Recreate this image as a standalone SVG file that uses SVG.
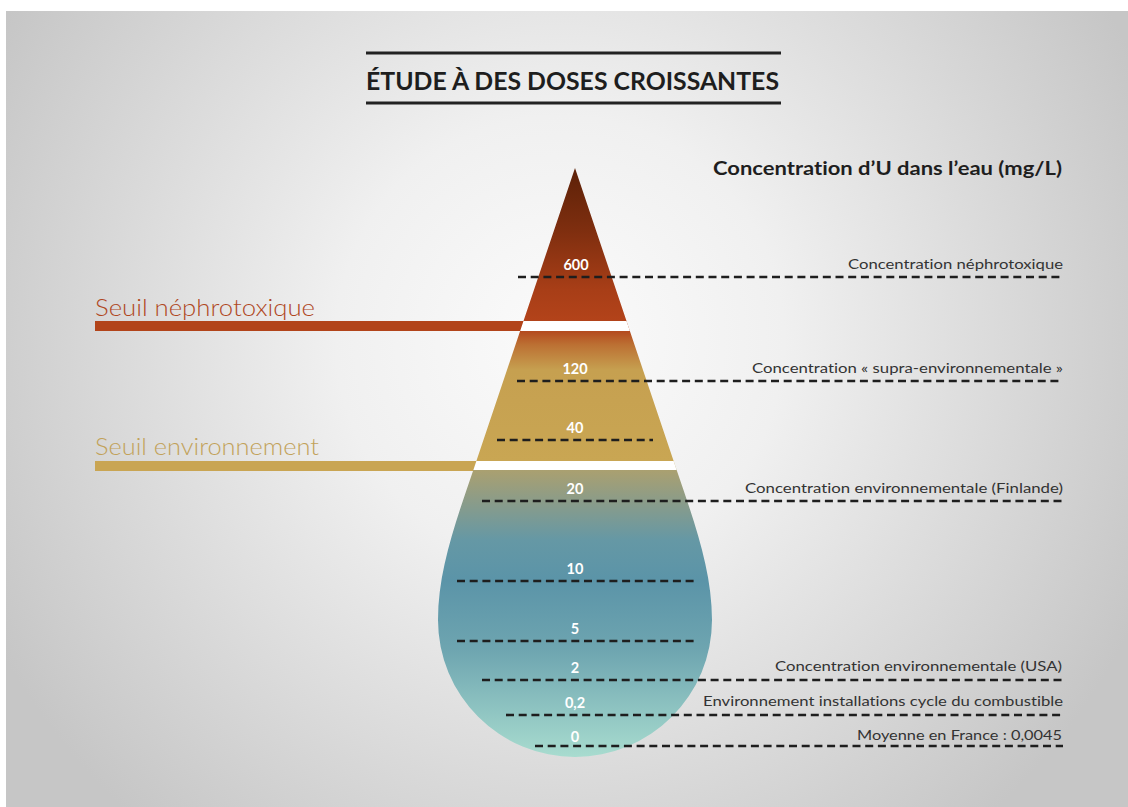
<svg xmlns="http://www.w3.org/2000/svg" width="1128" height="807" viewBox="0 0 1128 807">
<defs>
<radialGradient id="bg" gradientUnits="userSpaceOnUse" cx="560" cy="340" r="640">
<stop offset="0" stop-color="#fbfbfb"/>
<stop offset="0.35" stop-color="#f0f0f0"/>
<stop offset="1" stop-color="#c6c6c6"/>
</radialGradient>
<linearGradient id="drop" gradientUnits="userSpaceOnUse" x1="0" y1="168" x2="0" y2="757">
<stop offset="0" stop-color="#5c2108"/>
<stop offset="0.105" stop-color="#7e2e0f"/>
<stop offset="0.207" stop-color="#a83e17"/>
<stop offset="0.26" stop-color="#b3431a"/>
<stop offset="0.277" stop-color="#b44a1e"/>
<stop offset="0.30" stop-color="#bc7033"/>
<stop offset="0.343" stop-color="#c6a050"/>
<stop offset="0.497" stop-color="#c9a653"/>
<stop offset="0.513" stop-color="#aaa070"/>
<stop offset="0.564" stop-color="#8c9c88"/>
<stop offset="0.632" stop-color="#6598a5"/>
<stop offset="0.70" stop-color="#5b94a8"/>
<stop offset="0.818" stop-color="#6ea5b0"/>
<stop offset="1" stop-color="#a8dccf"/>
</linearGradient>
<clipPath id="dropClip">
<path d="M575,168 L473,471 C456,521 438,570 438,620 A137,137 0 0 0 712,620 C712,570 694,521 677,471 Z"/>
</clipPath>
<style>
text{font-variant-ligatures:none}
.dash{stroke:#1e1e1e;stroke-width:2.6;stroke-dasharray:8 4.7;fill:none}
.val{font-family:"Lato","Liberation Sans",sans-serif;font-weight:700;font-size:14.5px;fill:#ffffff;text-anchor:middle}
.lab{font-family:"Lato","Liberation Sans",sans-serif;font-weight:400;font-size:14px;fill:#333333;text-anchor:end}
.seuil{font-family:"Lato","Liberation Sans",sans-serif;font-weight:300;font-size:23px}
</style>
</defs>
<rect x="0" y="0" width="1128" height="807" fill="#ffffff"/>
<rect x="6" y="11" width="1122" height="796" fill="url(#bg)"/>

<g id="title">
<line x1="366" y1="53" x2="781" y2="53" stroke="#222" stroke-width="3"/>
<line x1="366" y1="103" x2="781" y2="103" stroke="#222" stroke-width="3"/>
<text x="366" y="90" font-family="Lato, 'Liberation Sans', sans-serif" font-weight="700" font-size="25" fill="#1e1e1e" textLength="413" lengthAdjust="spacingAndGlyphs">ÉTUDE À DES DOSES CROISSANTES</text>
</g>

<g id="header">
<text x="1062" y="175" font-family="Lato, 'Liberation Sans', sans-serif" font-weight="700" font-size="19" fill="#1e1e1e" text-anchor="end" textLength="349" lengthAdjust="spacingAndGlyphs">Concentration d’U dans l’eau (mg/L)</text>
</g>

<g id="seuil-nephro">
<rect x="95" y="321" width="470" height="10" fill="#b2441a"/>
<text class="seuil" x="95" y="316" fill="#b0481f" textLength="220" lengthAdjust="spacingAndGlyphs">Seuil néphrotoxique</text>
</g>
<g id="seuil-env">
<rect x="95" y="461" width="470" height="10" fill="#c9a553"/>
<text class="seuil" x="95" y="455" fill="#c2a25a" textLength="224" lengthAdjust="spacingAndGlyphs">Seuil environnement</text>
</g>

<g id="drop-shape">
<rect x="430" y="160" width="290" height="600" fill="url(#drop)" clip-path="url(#dropClip)"/>
<g clip-path="url(#dropClip)">
<rect x="430" y="321" width="290" height="10" fill="#ffffff"/>
<rect x="430" y="461" width="290" height="9" fill="#ffffff"/>
</g>
</g>

<g id="connectors">
<line class="dash" x1="518" y1="277" x2="1063" y2="277"/>
<line class="dash" x1="517" y1="381" x2="1063" y2="381"/>
<line class="dash" x1="497" y1="440" x2="653" y2="440"/>
<line class="dash" x1="482" y1="501" x2="1063" y2="501"/>
<line class="dash" x1="457" y1="581" x2="697" y2="581"/>
<line class="dash" x1="457" y1="641" x2="697" y2="641"/>
<line class="dash" x1="482" y1="680" x2="1063" y2="680"/>
<line class="dash" x1="506" y1="715" x2="1063" y2="715"/>
<line class="dash" x1="535" y1="746" x2="1063" y2="746"/>
</g>

<g id="values">
<text class="val" x="576" y="270">600</text>
<text class="val" x="575" y="374">120</text>
<text class="val" x="575" y="433">40</text>
<text class="val" x="575" y="494">20</text>
<text class="val" x="575" y="574">10</text>
<text class="val" x="575" y="634">5</text>
<text class="val" x="575" y="673">2</text>
<text class="val" x="575" y="708">0,2</text>
<text class="val" x="575" y="742">0</text>
</g>

<g id="labels">
<text class="lab" x="1063" y="269" textLength="215" lengthAdjust="spacingAndGlyphs">Concentration néphrotoxique</text>
<text class="lab" x="1063" y="373" textLength="311" lengthAdjust="spacingAndGlyphs">Concentration « supra-environnementale »</text>
<text class="lab" x="1063" y="493" textLength="318" lengthAdjust="spacingAndGlyphs">Concentration environnementale (Finlande)</text>
<text class="lab" x="1062" y="671" textLength="287" lengthAdjust="spacingAndGlyphs">Concentration environnementale (USA)</text>
<text class="lab" x="1063" y="706" textLength="360" lengthAdjust="spacingAndGlyphs">Environnement installations cycle du combustible</text>
<text class="lab" x="1062" y="740" textLength="205" lengthAdjust="spacingAndGlyphs">Moyenne en France : 0,0045</text>
</g>
</svg>
